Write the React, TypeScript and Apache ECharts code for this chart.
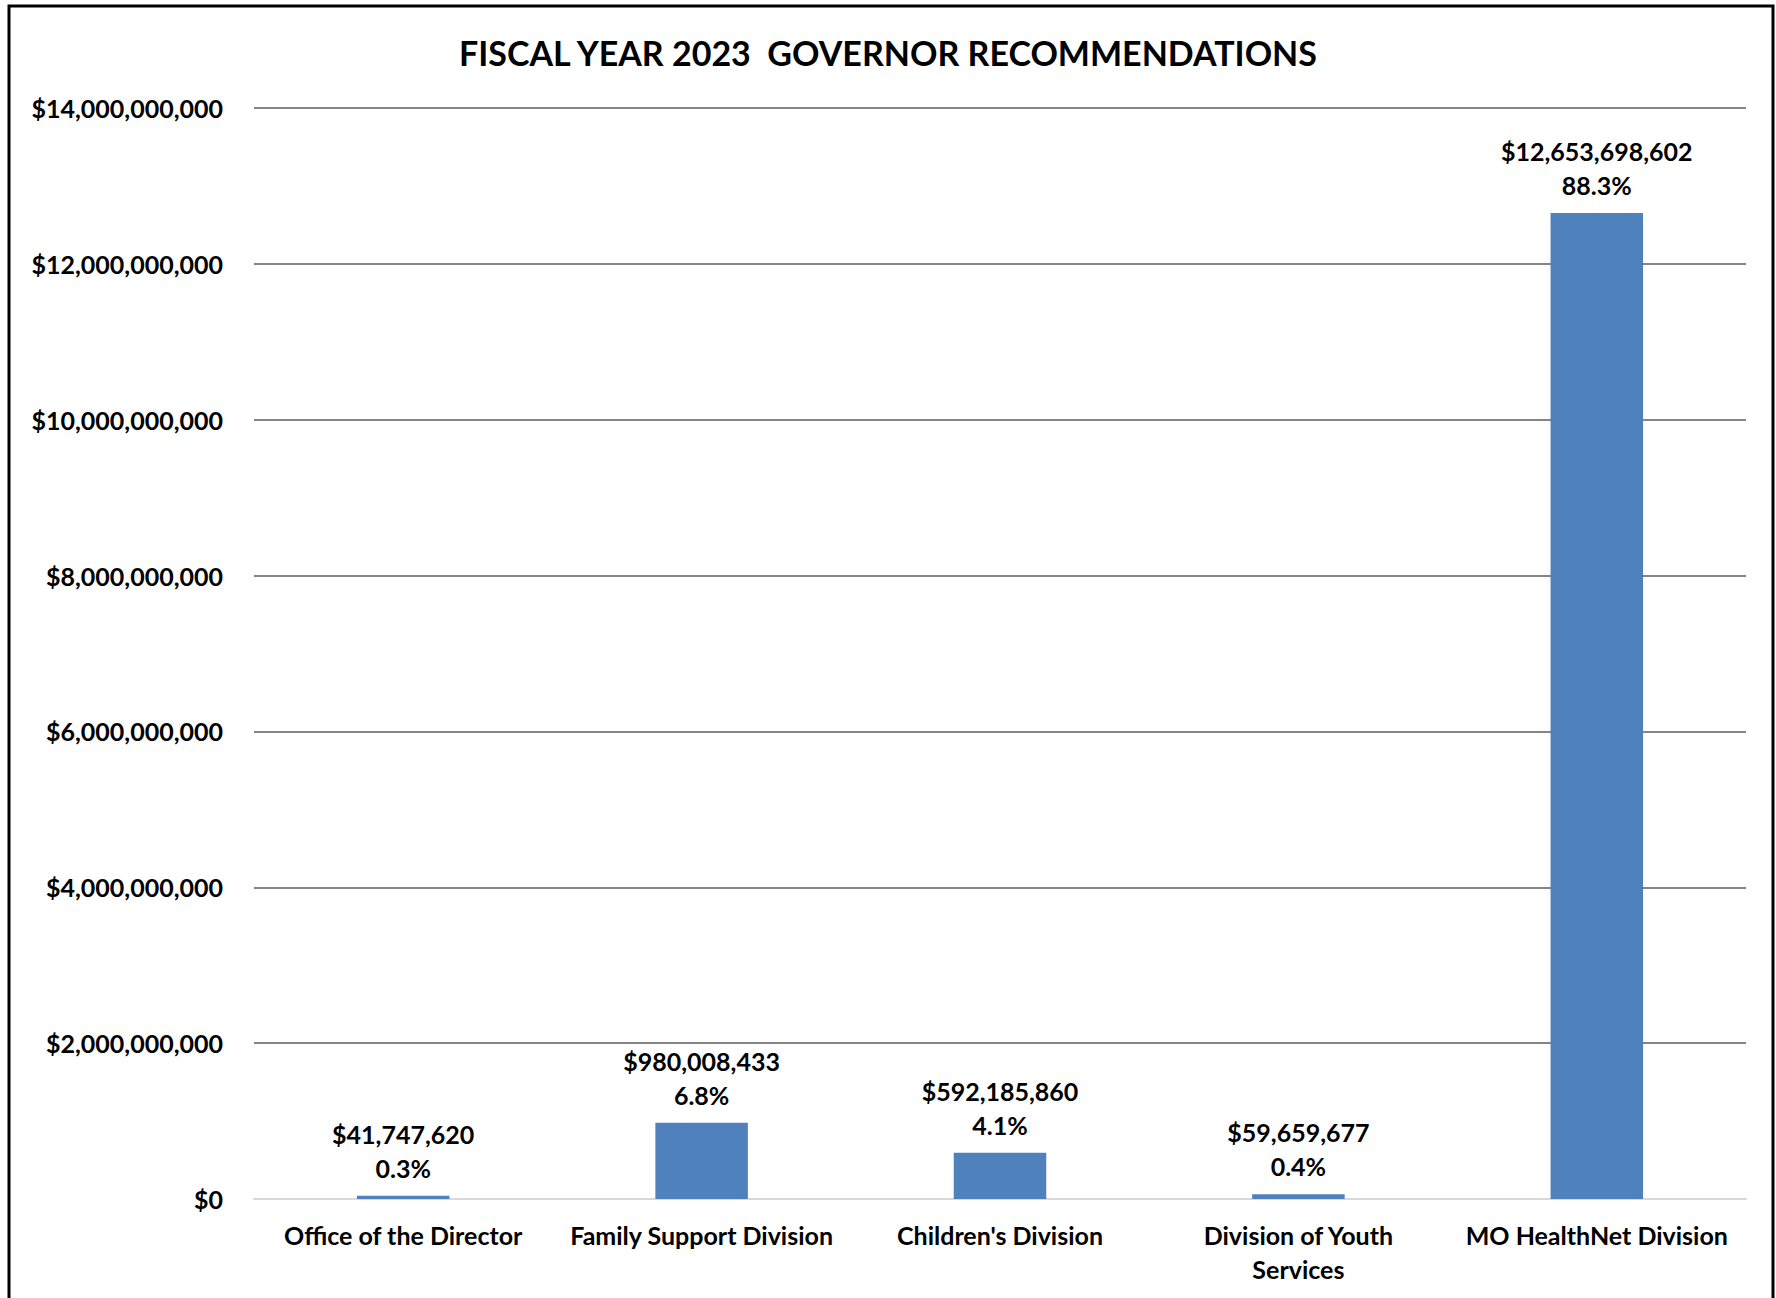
import React, { useEffect, useRef } from "react";
import * as echarts from "echarts";

const TITLE = "FISCAL YEAR 2023  GOVERNOR RECOMMENDATIONS";
const categories = [
  "Office of the Director",
  "Family Support Division",
  "Children's Division",
  "Division of Youth\nServices",
  "MO HealthNet Division",
];
const amounts = [41747620, 980008433, 592185860, 59659677, 12653698602];
const percents = ["0.3%", "6.8%", "4.1%", "0.4%", "88.3%"];
const yMin = 0;
const yMax = 14000000000;
const yInterval = 2000000000;

const FONT = "Lato, 'Open Sans', sans-serif";

function money(v: number): string {
  return "$" + Math.round(v).toLocaleString("en-US");
}

export default function App() {
  const ref = useRef<HTMLDivElement>(null);
  useEffect(() => {
    if (!ref.current) return;
    const chart = echarts.init(ref.current, undefined, { renderer: "svg" });
    chart.setOption({
      animation: false,
      backgroundColor: "#ffffff",
      title: {
        text: TITLE,
        left: "center",
        top: 30,
        textStyle: { fontFamily: FONT, fontWeight: "bold", fontSize: 34, color: "#000" },
      },
      graphic: [
        {
          type: "rect",
          shape: { x: 9, y: 6, width: 1764, height: 1400 },
          style: { fill: "none", stroke: "#000", lineWidth: 3 },
          silent: true,
        },
      ],
      grid: { left: 254, right: 30, top: 108, bottom: 99 },
      xAxis: {
        type: "category",
        data: categories,
        axisTick: { show: false },
        axisLine: { show: true, lineStyle: { color: "#d9d9d9", width: 2 } },
        axisLabel: {
          fontFamily: FONT,
          fontWeight: "bold",
          fontSize: 25,
          color: "#000",
          margin: 19,
          lineHeight: 34,
          interval: 0,
        },
      },
      yAxis: {
        type: "value",
        min: yMin,
        max: yMax,
        interval: yInterval,
        axisLine: { show: false },
        axisTick: { show: false },
        splitLine: { show: true, showMinLine: false, lineStyle: { color: "#858585", width: 2 } },
        axisLabel: {
          formatter: (v: number) => money(v),
          fontFamily: FONT,
          fontWeight: "bold",
          fontSize: 25,
          color: "#000",
          margin: 31,
        },
      },
      series: [
        {
          type: "bar",
          data: amounts,
          barWidth: "31%",
          itemStyle: { color: "#4F81BD" },
          label: {
            show: true,
            position: "top",
            distance: 11,
            formatter: (p: any) => money(p.value) + "\n" + percents[p.dataIndex],
            fontFamily: FONT,
            fontWeight: "bold",
            fontSize: 25,
            lineHeight: 34,
            color: "#000",
          },
        },
      ],
    });
    return () => chart.dispose();
  }, []);
  return (
    <div
      ref={ref}
      style={{ position: "fixed", left: 0, top: 0, width: 1776, height: 1298 }}
    />
  );
}
